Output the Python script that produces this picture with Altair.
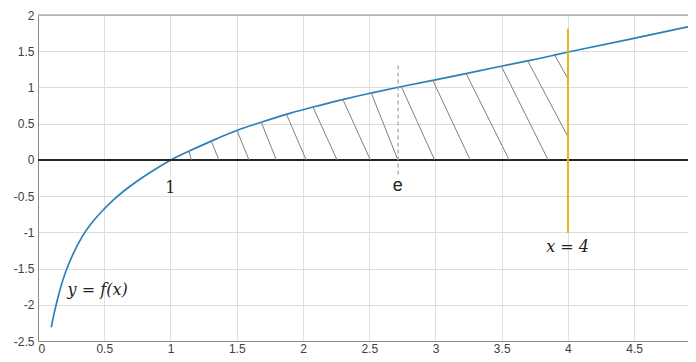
import altair as alt
import pandas as pd

# curve y = f(x)
curve_x = [0.100, 0.120, 0.138, 0.170, 0.206, 0.264, 0.339, 0.400, 0.465, 0.573, 0.660, 0.747, 0.918,
           1.0, 1.144, 1.32, 1.50, 1.685, 1.90, 2.075, 2.30, 2.515, 2.73, 2.98, 3.23, 3.48, 3.71, 3.90,
           4.0, 4.49, 4.965]
curve_y = [-2.31, -2.13, -1.99, -1.76, -1.55, -1.29, -1.03, -0.88, -0.74, -0.54, -0.41, -0.29, -0.09,
           0.0, 0.125, 0.27, 0.41, 0.52, 0.645, 0.73, 0.835, 0.925, 1.008, 1.098, 1.19, 1.288, 1.37, 1.447,
           1.49, 1.674, 1.86]

# hatch segments (top on curve, bottom on axis or on x = 4)
hatch_x_top = [1.139, 1.308, 1.501, 1.685, 1.874, 2.075, 2.301, 2.515, 2.742, 2.980, 3.232, 3.497, 3.697, 3.899]
hatch_y_top = [0.12, 0.26, 0.41, 0.52, 0.635, 0.73, 0.835, 0.925, 1.012, 1.098, 1.19, 1.294, 1.366, 1.447]
hatch_x_bot = [1.157, 1.365, 1.592, 1.799, 2.024, 2.257, 2.508, 2.716, 2.993, 3.262, 3.556, 3.850, 4.0, 4.0]
hatch_y_bot = [0, 0, 0, 0, 0, 0, 0, 0, 0, 0, 0, 0, 0.32, 1.12]

# vertical lines
vline_x = [4.0]
vline_y = [-1.01]
vline_y2 = [1.81]
eline_x = [2.718]
eline_y = [-0.2]
eline_y2 = [1.31]

# horizontal lines: the y = 0 axis line and the top frame
hline_y = [0, 2]
hline_kind = ["zero", "frame"]

# annotations
ann_text = ["1", "e", "x = 4", "y = f(x)"]
ann_x = [0.998, 2.716, 3.997, 0.45]
ann_y = [-0.39, -0.36, -1.2, -1.79]

x_ticks = [0, 0.5, 1, 1.5, 2, 2.5, 3, 3.5, 4, 4.5]
y_ticks = [-2.5, -2, -1.5, -1, -0.5, 0, 0.5, 1, 1.5, 2]
x_domain = [0, 4.906]
y_domain = [-2.5, 2]

xs = alt.Scale(domain=x_domain, nice=False, zero=False)
ys = alt.Scale(domain=y_domain, nice=False, zero=False)

xaxis = alt.Axis(values=x_ticks, labelExpr="toString(datum.value)", title=None, labelOverlap=False,
                 grid=True, ticks=False, domain=True, labelPadding=2)
yaxis = alt.Axis(values=y_ticks, labelExpr="toString(datum.value)", title=None, labelOverlap=False,
                 grid=True, ticks=False, domain=True, labelPadding=4)


def X(f):
    return alt.X(f, type="quantitative", scale=xs, axis=xaxis)


def Y(f):
    return alt.Y(f, type="quantitative", scale=ys, axis=yaxis)


curve_df = pd.DataFrame({"x": curve_x, "y": curve_y})
hatch_df = pd.DataFrame({"x": hatch_x_top, "y": hatch_y_top, "x2": hatch_x_bot, "y2": hatch_y_bot})
vline_df = pd.DataFrame({"x": vline_x, "y": vline_y, "y2": vline_y2})
eline_df = pd.DataFrame({"x": eline_x, "y": eline_y, "y2": eline_y2})
hline_df = pd.DataFrame({"y": hline_y, "k": hline_kind})
ann_df = pd.DataFrame({"t": ann_text, "x": ann_x, "y": ann_y})

curve = alt.Chart(curve_df).mark_line(color="#2a80b9", strokeWidth=1.7, interpolate="basis", clip=True).encode(
    x=X("x"), y=Y("y"),
)

zero_rule = alt.Chart(hline_df[hline_df.k == "zero"]).mark_rule(color="#262626", strokeWidth=2).encode(y=Y("y"))
top_rule = alt.Chart(hline_df[hline_df.k == "frame"]).mark_rule(color="#8c8c8c", strokeWidth=1).encode(y=Y("y"))

hatch = alt.Chart(hatch_df).mark_rule(color="#808080", strokeWidth=1).encode(
    x=X("x"), y=Y("y"), x2="x2:Q", y2="y2:Q"
)

eline = alt.Chart(eline_df).mark_rule(color="#a0a0a0", strokeWidth=1.2, strokeDash=[4, 3]).encode(
    x=X("x"), y=Y("y"), y2="y2:Q"
)

vline = alt.Chart(vline_df).mark_rule(color="#EDB120", strokeWidth=2).encode(
    x=X("x"), y=Y("y"), y2="y2:Q"
)

ann_one = alt.Chart(ann_df[ann_df.t == "1"]).mark_text(
    font="DejaVu Serif", fontSize=16, color="#222222", align="center", baseline="middle"
).encode(x=X("x"), y=Y("y"), text="t:N")

ann_e = alt.Chart(ann_df[ann_df.t == "e"]).mark_text(
    font="Liberation Sans", fontSize=18, color="#222222", align="center", baseline="middle"
).encode(x=X("x"), y=Y("y"), text="t:N")

ann_math = alt.Chart(ann_df[ann_df.t.isin(["x = 4", "y = f(x)"])]).mark_text(
    font="DejaVu Serif", fontSize=16, fontStyle="italic", color="#222222", align="center", baseline="middle"
).encode(x=X("x"), y=Y("y"), text="t:N")

chart = alt.layer(
    curve, zero_rule, top_rule, hatch, eline, vline, ann_one, ann_e, ann_math
).properties(
    width=650, height=326,
    background="white",
    autosize=alt.AutoSizeParams(type="none"),
    padding={"left": 30, "top": 7, "right": 0, "bottom": 13},
).configure_view(stroke=None).configure_axis(
    labelFont="Liberation Sans", labelFontSize=12, labelColor="#404040",
    gridColor="#dedede", gridWidth=1, domainColor="#8c8c8c", domainWidth=1,
)

chart.save("out.html", embed_options={"renderer": "svg", "actions": False})
